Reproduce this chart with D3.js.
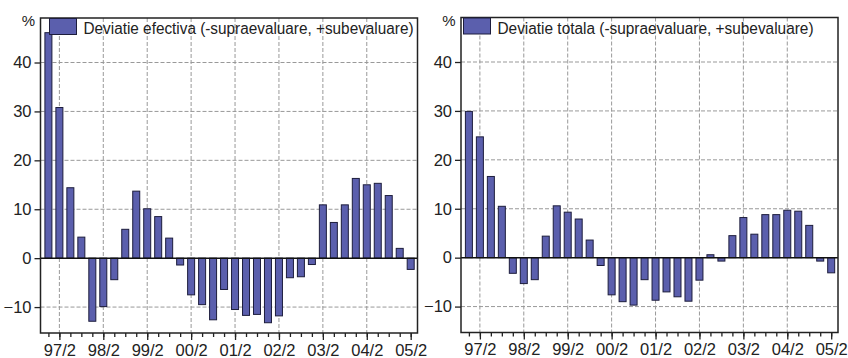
<!DOCTYPE html>
<html>
<head>
<meta charset="utf-8">
<script src="https://cdn.jsdelivr.net/npm/d3@7"></script>
<style>
  body { margin: 0; background: #fff; }
  text { font-family: "Liberation Sans", Arial, sans-serif; fill: #222; }
</style>
</head>
<body>
<div id="chart"></div>
<script>
// quarters 97/1 .. 05/2
let quarters = ["97/1","97/2","97/3","97/4","98/1","98/2","98/3","98/4",
  "99/1","99/2","99/3","99/4","00/1","00/2","00/3","00/4",
  "01/1","01/2","01/3","01/4","02/1","02/2","02/3","02/4",
  "03/1","03/2","03/3","03/4","04/1","04/2","04/3","04/4",
  "05/1","05/2"];

let tickLabels = ["97/2","98/2","99/2","00/2","01/2","02/2","03/2","04/2","05/2"];
let yTicks = [-10, 0, 10, 20, 30, 40];

let deviatieEfectiva = [46.1, 30.8, 14.4, 4.3, -12.9, -9.9, -4.4, 5.9,
  13.7, 10.1, 8.5, 4.1, -1.4, -7.5, -9.5, -12.6,
  -6.4, -10.5, -11.7, -11.5, -13.2, -11.8, -4.0, -3.8,
  -1.3, 10.9, 7.3, 10.9, 16.3, 15.0, 15.3, 12.8,
  2.0, -2.3];

let deviatieTotala = [29.9, 24.7, 16.6, 10.5, -3.2, -5.3, -4.5, 4.4,
  10.6, 9.3, 7.9, 3.6, -1.6, -7.6, -9.0, -9.7,
  -4.5, -8.7, -7.0, -8.0, -8.9, -4.6, 0.6, -0.7,
  4.5, 8.2, 4.8, 8.8, 8.8, 9.7, 9.5, 6.6,
  -0.7, -3.1];

let legendLabels = ["Deviatie efectiva (-supraevaluare, +subevaluare)",
  "Deviatie totala (-supraevaluare, +subevaluare)"];

let width = 377, height = 315;
let barColor = "#5b5fad", barStroke = "#1d1d3c";

let svg = d3.select("#chart")
  .append("svg")
    .attr("width", 848)
    .attr("height", 358);

function drawPanel(left, top, values, label, legendX, legendW) {
  let g = svg.append("g")
    .attr("transform", `translate(${left},${top})`);

  let x = d3.scaleLinear()
    .domain([-0.72, 33.62])
    .range([0, width]);

  let y = d3.scaleLinear()
    .domain([-15.3, 49.1])
    .range([height, 0]);

  // index of each "/2" quarter
  let majorIdx = tickLabels.map(t => quarters.indexOf(t));

  // dashed grid
  g.append("g")
    .selectAll("line.hg")
    .data(yTicks.filter(d => d !== 0))
    .enter().append("line")
      .attr("x1", 0).attr("x2", width)
      .attr("y1", d => y(d)).attr("y2", d => y(d))
      .attr("stroke", "#999")
      .attr("stroke-dasharray", "4,2");

  g.append("g")
    .selectAll("line.vg")
    .data(majorIdx.slice(0, -1))
    .enter().append("line")
      .attr("x1", d => x(d)).attr("x2", d => x(d))
      .attr("y1", 0).attr("y2", height)
      .attr("stroke", "#999")
      .attr("stroke-dasharray", "4,2");

  // bars
  let bw = 7;
  g.append("g")
    .selectAll("rect")
    .data(values)
    .enter().append("rect")
      .attr("x", (d, i) => x(i) - bw / 2)
      .attr("y", d => y(Math.max(0, d)))
      .attr("width", bw)
      .attr("height", d => Math.abs(y(d) - y(0)))
      .attr("fill", barColor)
      .attr("stroke", barStroke)
      .attr("stroke-width", 1);

  // zero line
  g.append("line")
    .attr("x1", 0).attr("x2", width)
    .attr("y1", y(0)).attr("y2", y(0))
    .attr("stroke", "#111")
    .attr("stroke-width", 1.5);

  // frame
  g.append("rect")
    .attr("width", width)
    .attr("height", height)
    .attr("fill", "none")
    .attr("stroke", "#222")
    .attr("stroke-width", 1.5);

  // Y axis
  let yAxis = g.append("g")
    .call(d3.axisLeft(y).tickValues(yTicks).tickSize(6).tickPadding(3));
  yAxis.select(".domain").remove();
  yAxis.selectAll("line").attr("stroke", "#222").attr("stroke-width", 1.3);
  yAxis.selectAll("text")
    .style("font-size", "16.5px")
    .style("font-family", "Liberation Sans, Arial, sans-serif")
    .attr("fill", "#222");

  // X axis, minor ticks each quarter
  let xMinor = g.append("g")
    .attr("transform", `translate(0,${height})`)
    .call(d3.axisBottom(x).tickValues(d3.range(quarters.length)).tickSize(4).tickFormat(""));
  xMinor.select(".domain").remove();
  xMinor.selectAll("line").attr("stroke", "#222").attr("stroke-width", 1.3);

  let xMajor = g.append("g")
    .attr("transform", `translate(0,${height})`)
    .call(d3.axisBottom(x).tickValues(majorIdx).tickSize(7).tickPadding(4)
      .tickFormat(d => quarters[d]));
  xMajor.select(".domain").remove();
  xMajor.selectAll("line").attr("stroke", "#222").attr("stroke-width", 1.3);
  xMajor.selectAll("text")
    .style("font-size", "16.5px")
    .style("font-family", "Liberation Sans, Arial, sans-serif")
    .attr("fill", "#222");

  // % unit
  g.append("text")
    .attr("x", -12)
    .attr("y", 8)
    .attr("text-anchor", "middle")
    .style("font-size", "15px")
    .text("%");

  // legend
  g.append("rect")
    .attr("x", legendX)
    .attr("y", 0.5)
    .attr("width", 27)
    .attr("height", 16)
    .attr("fill", barColor)
    .attr("stroke", barStroke)
    .attr("stroke-width", 1);

  g.append("text")
    .attr("x", legendX + 34)
    .attr("y", 16)
    .attr("textLength", legendW)
    .attr("lengthAdjust", "spacingAndGlyphs")
    .style("font-size", "16px")
    .text(label);
}

drawPanel(40.5, 18, deviatieEfectiva, legendLabels[0], 9, 330);
drawPanel(461, 17.5, deviatieTotala, legendLabels[1], 2.5, 316);
</script>
</body>
</html>
